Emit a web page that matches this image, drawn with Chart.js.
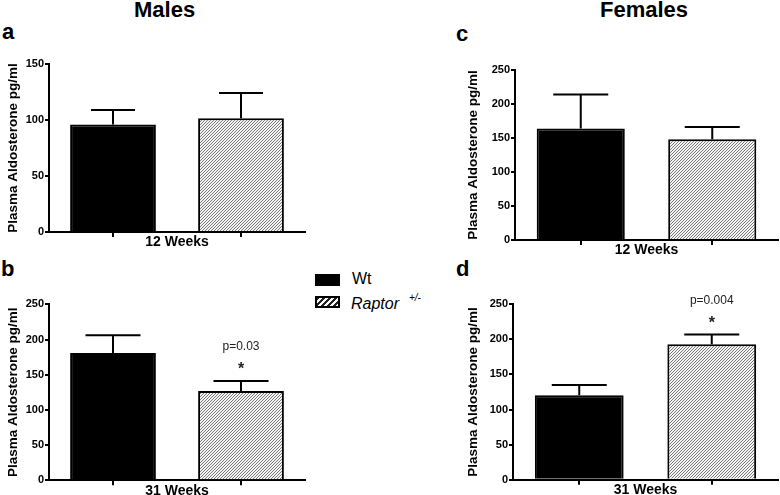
<!DOCTYPE html>
<html>
<head>
<meta charset="utf-8">
<script src="https://cdn.jsdelivr.net/npm/chart.js@4.4.1/dist/chart.umd.min.js"></script>
<style>
  html, body { margin:0; padding:0; background:#fff; overflow:hidden; }
  body { width:780px; height:495px; position:relative; font-family:'Liberation Sans', Arial, sans-serif; color:#000; }
  .box { position:absolute; }
  .txt { position:absolute; white-space:nowrap; }
  .big { font-size:22px; line-height:22px; font-weight:bold; }
</style>
</head>
<body>
<div class="txt big" style="left:134px;top:-1px;">Males</div>
<div class="txt big" style="left:600px;top:-1px;">Females</div>
<div class="txt big" style="left:2px;top:21px;">a</div>
<div class="txt big" style="left:1px;top:258px;">b</div>
<div class="txt big" style="left:456px;top:23px;">c</div>
<div class="txt big" style="left:456px;top:258px;">d</div>

<div class="box" style="left:315px;top:274px;width:25px;height:12px;background:#000;"></div>
<div class="box" style="left:315px;top:296px;width:21px;height:8px;border:2px solid #000;background:repeating-linear-gradient(135deg,#222 0 1.6px,#fff 1.6px 4.2px);"></div>
<div class="txt" style="left:352px;top:271px;font-size:16px;line-height:16px;">Wt</div>
<div class="txt" style="left:351px;top:296px;font-size:16px;line-height:16px;font-style:italic;">Raptor</div>
<div class="txt" style="left:409px;top:293px;font-size:10px;line-height:10px;font-style:italic;">+/-</div>

<div class="box" id="wa" style="left:0px;top:40px;width:310px;height:215px;"><canvas id="chart_a"></canvas></div>
<div class="box" id="wb" style="left:0px;top:285px;width:310px;height:215px;"><canvas id="chart_b"></canvas></div>
<div class="box" id="wc" style="left:460px;top:45px;width:320px;height:215px;"><canvas id="chart_c"></canvas></div>
<div class="box" id="wd" style="left:460px;top:285px;width:320px;height:215px;"><canvas id="chart_d"></canvas></div>

<script>
// groups
const groups = ['Wt', 'Raptor +/-'];

// plasma aldosterone, pg/ml (mean and SEM)
const males12 = [96, 101.5];
const males12Err = [13, 22.5];
const males31 = [181, 127];
const males31Err = [25, 14];
const females12 = [164, 148];
const females12Err = [50, 18];
const females31 = [120.5, 193];
const females31Err = [14.5, 14];

// significance labels
const males31Sig = ['', 'p=0.03'];
const females31Sig = ['', 'p=0.004'];

const yTicks150 = [0, 50, 100, 150];
const yTicks250 = [0, 50, 100, 150, 200, 250];

const FONT = "'Liberation Sans', Arial, sans-serif";

function hatch(){
  const c = document.createElement('canvas');
  c.width = 3; c.height = 3;
  const g = c.getContext('2d');
  g.fillStyle = '#f6f6f6';
  g.fillRect(0,0,3,3);
  g.strokeStyle = '#555';
  g.lineWidth = 0.8;
  g.beginPath();
  g.moveTo(-1,4); g.lineTo(4,-1);
  g.moveTo(-1,1); g.lineTo(1,-1);
  g.moveTo(2,4); g.lineTo(4,2);
  g.stroke();
  return g.createPattern(c, 'repeat');
}

const errorBars = {
  id: 'errorBars',
  afterDatasetsDraw(chart, args, opts){
    const ctx = chart.ctx;
    const y = chart.scales.y;
    const meta = chart.getDatasetMeta(0);
    const ds = chart.data.datasets[0];
    ctx.save();
    ctx.strokeStyle = '#000';
    ctx.lineWidth = 2;
    meta.data.forEach((bar, i) => {
      const top = y.getPixelForValue(ds.data[i] + opts.err[i]);
      ctx.beginPath();
      ctx.moveTo(bar.x, bar.y);
      ctx.lineTo(bar.x, top);
      ctx.moveTo(bar.x - opts.cap/2, top);
      ctx.lineTo(bar.x + opts.cap/2, top);
      ctx.stroke();
      if (opts.sig && opts.sig[i]) {
        ctx.fillStyle = '#222';
        ctx.textAlign = 'center';
        ctx.textBaseline = 'middle';
        ctx.font = '12px ' + FONT;
        ctx.fillText(opts.sig[i], bar.x, top - 34);
        ctx.font = 'bold 16px ' + FONT;
        ctx.fillText('*', bar.x, top - 11);
      }
    });
    ctx.restore();
  }
};

function makeChart(id, wrap, area, values, err, sig, yMax, yTicks, xTitle, cap){
  const w = document.getElementById(wrap);
  const L = w.offsetLeft, T = w.offsetTop, W = w.offsetWidth, H = w.offsetHeight;
  const xH = 17.5;
  const ctx = document.getElementById(id);
  return new Chart(ctx, {
    type: 'bar',
    data: {
      labels: groups,
      datasets: [{
        data: values,
        backgroundColor: ['#000', hatch()],
        borderColor: '#000',
        borderWidth: 2,
        borderSkipped: 'start',
        categoryPercentage: 1,
        barPercentage: 0.67
      }]
    },
    options: {
      responsive: true,
      maintainAspectRatio: false,
      animation: false,
      layout: { padding: { left: 0, top: area[1] - T, right: L + W - area[2], bottom: T + H - area[3] - xH } },
      plugins: {
        legend: { display: false },
        tooltip: { enabled: false },
        errorBars: { err: err, sig: sig, cap: cap }
      },
      scales: {
        x: {
          afterFit: s => { s.height = xH; },
          grid: { drawOnChartArea: false, offset: false, color: '#000', lineWidth: 2, tickLength: 5 },
          border: { color: '#000', width: 2 },
          ticks: { display: false },
          title: { display: true, text: xTitle, color: '#000', padding: 0,
                   font: { family: FONT, size: 14, weight: 'bold', lineHeight: 1 } }
        },
        y: {
          min: 0, max: yMax,
          afterFit: s => { s.width = area[0] - L; },
          afterBuildTicks: s => { s.ticks = yTicks.map(v => ({ value: v })); },
          grid: { drawOnChartArea: false, color: '#000', lineWidth: 2, tickLength: 4 },
          border: { color: '#000', width: 2 },
          ticks: { color: '#000', padding: 1, font: { family: FONT, size: 11, weight: 'bold' } },
          title: { display: true, text: 'Plasma Aldosterone pg/ml', color: '#000', padding: { top: 4.7, bottom: 0 },
                   font: { family: FONT, size: 13.5, weight: 'bold', lineHeight: 1.2 } }
        }
      }
    },
    plugins: [errorBars]
  });
}

makeChart('chart_a', 'wa', [49, 64, 305, 232], males12, males12Err, null, 150, yTicks150, '12 Weeks', 44);
makeChart('chart_b', 'wb', [49, 304.3, 305, 480.3], males31, males31Err, males31Sig, 250, yTicks250, '31 Weeks', 55);
makeChart('chart_c', 'wc', [515, 70, 778, 240], females12, females12Err, null, 250, yTicks250, '12 Weeks', 55);
makeChart('chart_d', 'wd', [513, 304.3, 778, 479.7], females31, females31Err, females31Sig, 250, yTicks250, '31 Weeks', 55);
</script>
</body>
</html>
